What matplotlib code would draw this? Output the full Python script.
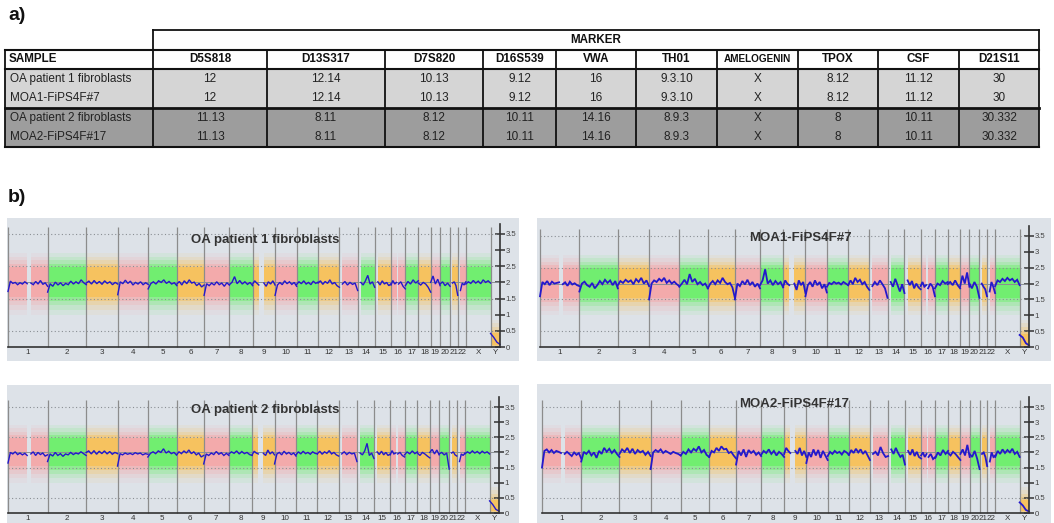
import numpy as np
import matplotlib
matplotlib.use('Agg')
import matplotlib.pyplot as plt
from matplotlib.patches import Rectangle

plt.rcParams['font.family'] = ['Liberation Sans', 'DejaVu Sans']

# ---------------- a) STR table ----------------
markers = ['D5S818', 'D13S317', 'D7S820', 'D16S539', 'VWA', 'TH01',
           'AMELOGENIN', 'TPOX', 'CSF', 'D21S11']
samples = ['OA patient 1 fibroblasts', 'MOA1-FiPS4F#7',
           'OA patient 2 fibroblasts', 'MOA2-FiPS4F#17']
calls_oa1 = ['12', '12.14', '10.13', '9.12', '16', '9.3.10', 'X', '8.12', '11.12', '30']
calls_moa1 = ['12', '12.14', '10.13', '9.12', '16', '9.3.10', 'X', '8.12', '11.12', '30']
calls_oa2 = ['11.13', '8.11', '8.12', '10.11', '14.16', '8.9.3', 'X', '8', '10.11', '30.332']
calls_moa2 = ['11.13', '8.11', '8.12', '10.11', '14.16', '8.9.3', 'X', '8', '10.11', '30.332']

# ---------------- b) copy number ----------------
chrom_names = ['1', '2', '3', '4', '5', '6', '7', '8', '9', '10', '11', '12', '13',
               '14', '15', '16', '17', '18', '19', '20', '21', '22', 'X', 'Y']
chrom_len = [249.3, 243.2, 198.0, 191.2, 180.9, 171.1, 159.1, 146.4, 141.2, 135.5,
             135.0, 133.9, 115.2, 107.3, 102.5, 90.4, 81.2, 78.1, 59.1, 63.0,
             48.1, 51.3, 155.3, 59.4]
# covered segments (chromosome index, start Mb, end Mb)
segments = [(0, 0, 121), (0, 144, 249.3), (1, 0, 243.2), (2, 0, 198), (3, 0, 191.2),
            (4, 0, 180.9), (5, 0, 171.1), (6, 0, 159.1), (7, 0, 146.4), (8, 0, 39),
            (8, 71, 141.2), (9, 0, 135.5), (10, 0, 135), (11, 0, 133.9), (12, 19, 115.2),
            (13, 20, 107.3), (14, 20, 102.5), (15, 0, 35), (15, 47, 90.4), (16, 0, 81.2),
            (17, 0, 78.1), (18, 0, 59.1), (19, 0, 63), (20, 15, 48.1), (21, 17, 51.3),
            (22, 0, 155.3), (23, 0, 59.4)]

cn_oa1 = [
    [1.72, 2.04, 1.97, 2.0, 1.93, 1.99, 1.95, 2.02, 1.96],
    [1.98, 1.93, 2.03, 1.95, 2.06, 1.94, 1.99, 1.88],
    [1.7, 1.96, 1.88, 2.01, 1.92, 1.99, 1.9, 1.97, 1.93, 2.04, 1.95, 2.02, 1.96, 2.08, 1.99, 1.93],
    [1.98, 2.04, 1.95, 2.06, 1.96, 2.03, 1.94, 2.05, 1.97, 2.02, 1.93, 2.0, 1.95],
    [1.62, 2.02, 1.96, 2.07, 1.97, 2.04, 1.92, 2.0, 1.95, 2.02, 1.93, 1.99, 1.94],
    [1.8, 1.96, 2.02, 1.95, 2.05, 2.0, 2.08, 1.97, 2.03, 1.95, 1.99, 1.9],
    [1.95, 2.03, 1.92, 2.05, 1.96, 2.08, 1.98, 2.01, 1.9, 1.97, 1.86, 1.92],
    [1.6, 1.96, 1.9, 1.98, 1.92, 2.02, 1.93, 1.98, 1.88, 1.99, 1.92],
    [1.93, 2.0, 2.18, 1.96, 2.06, 1.95, 2.02, 1.94, 2.0, 1.9],
    [1.95, 2.05, 1.98, 1.92],
    [1.98, 1.88, 2.02, 1.95, 2.05, 1.92],
    [1.6, 1.92, 2.0, 1.93, 2.05, 1.96, 2.02, 1.94, 2.0, 1.88],
    [1.94, 2.02, 1.96, 2.05, 1.95, 2.0, 1.93, 2.04, 1.97, 2.01],
    [1.98, 2.05, 1.94, 2.03, 1.97, 2.08, 1.95, 2.0, 1.9, 1.85],
    [1.95, 2.03, 1.92, 2.0, 1.94, 1.98, 1.75],
    [2.0, 1.92, 2.05, 2.22, 1.95, 2.02, 1.85],
    [2.02, 1.92, 2.05, 1.95, 2.0, 1.9, 1.96],
    [1.92, 2.06, 1.95, 2.0],
    [1.95, 2.02, 1.88, 1.8],
    [1.9, 2.03, 1.95, 2.08, 1.98, 2.05],
    [1.98, 1.92, 2.0, 1.95, 1.85, 1.7],
    [2.0, 2.2, 1.95, 2.1, 1.9],
    [1.95, 2.02, 1.9, 1.98, 1.88],
    [1.98, 2.02, 1.9, 1.6],
    [1.75, 1.98, 1.92, 2.02],
    [1.95, 2.02, 1.97, 2.06, 1.98, 2.04, 1.96, 2.08, 2.0, 2.05, 1.98],
    [0.42, 0.3, 0.15, 0.08],
]

cn_moa1 = [
    [1.6, 2.05, 1.98, 2.08, 1.95, 2.06, 2.0, 2.02, 2.04],
    [1.98, 2.04, 1.93, 2.06, 1.97, 2.01, 1.95, 1.92],
    [1.75, 2.0, 2.06, 1.95, 1.9, 2.02, 1.85, 1.95, 2.08, 1.98, 2.12, 2.02, 2.1, 1.95, 2.08, 1.85],
    [1.95, 2.08, 2.02, 2.12, 2.05, 2.1, 1.98, 2.14, 2.05, 2.18, 2.0, 2.1, 1.92],
    [1.5, 2.0, 2.1, 2.05, 2.15, 2.08, 2.18, 2.02, 2.1, 2.0, 2.06, 1.98, 1.92],
    [1.9, 2.0, 2.12, 1.98, 2.3, 2.05, 2.15, 1.98, 2.05, 1.95, 2.0, 1.85],
    [1.85, 2.0, 2.08, 1.98, 2.1, 2.02, 2.18, 2.05, 1.98, 2.02, 1.88, 1.55],
    [1.5, 2.0, 1.92, 2.08, 1.97, 2.12, 1.95, 2.05, 1.9, 2.0, 1.85],
    [1.95, 2.1, 2.45, 2.0, 2.1, 1.95, 2.08, 1.98, 2.05, 1.88],
    [1.9, 2.1, 2.0, 1.95],
    [2.0, 1.8, 2.1, 1.95, 2.05, 1.7],
    [1.6, 1.95, 2.05, 1.9, 2.1, 1.95, 2.05, 1.85, 1.98, 1.72],
    [1.9, 2.02, 1.98, 2.05, 2.0, 2.03, 1.97, 2.05, 2.0, 1.95],
    [1.95, 2.1, 1.98, 2.18, 2.05, 2.12, 1.98, 2.05, 1.9, 1.8],
    [1.92, 2.05, 1.95, 2.1, 1.98, 1.85, 1.55],
    [2.05, 1.9, 2.15, 1.95, 1.75, 1.98, 1.7],
    [2.1, 1.95, 2.08, 1.85, 2.0, 1.88, 1.82],
    [1.92, 2.05, 1.9, 1.95],
    [1.85, 2.0, 1.9, 1.6],
    [1.85, 2.0, 1.95, 2.08, 2.0, 2.05],
    [1.98, 2.05, 1.95, 2.1, 1.95, 1.85],
    [1.9, 2.25, 2.0, 2.35, 1.9],
    [2.0, 1.85, 2.05, 1.9, 1.55],
    [2.0, 1.9, 1.82, 1.6],
    [1.75, 2.05, 1.9, 1.7],
    [1.92, 2.1, 2.05, 2.15, 2.08, 2.18, 2.1, 2.15, 2.05, 2.12, 1.95],
    [0.38, 0.3, 0.12, 0.05],
]

cn_oa2 = [
    [1.65, 2.0, 1.95, 2.02, 1.93, 1.98, 1.92, 1.97, 1.9],
    [1.95, 2.02, 1.9, 2.0, 1.93, 1.98, 1.88, 1.92],
    [1.7, 1.95, 1.88, 2.0, 1.9, 1.96, 1.87, 1.95, 1.92, 2.0, 1.93, 1.98, 1.95, 2.02, 1.96, 1.9],
    [2.0, 2.05, 1.95, 2.06, 1.94, 2.04, 1.96, 2.05, 1.95, 2.03, 1.94, 2.0, 1.96],
    [1.55, 1.96, 1.92, 1.98, 1.94, 1.97, 1.93, 1.99, 1.95, 1.98, 1.92, 1.96, 1.94],
    [1.85, 1.97, 2.02, 1.96, 2.05, 2.0, 2.12, 1.98, 2.04, 1.96, 2.0, 1.92],
    [1.92, 2.02, 1.96, 2.05, 1.98, 2.08, 1.96, 2.02, 1.92, 1.98, 1.85, 1.9],
    [1.62, 1.95, 1.9, 1.98, 1.93, 2.03, 1.94, 1.99, 1.9, 1.97, 1.9],
    [1.95, 2.02, 1.97, 2.05, 1.95, 2.03, 1.96, 2.0, 1.93, 1.9],
    [1.92, 2.04, 1.98, 1.95],
    [1.97, 1.9, 2.08, 1.95, 2.02, 1.92],
    [1.62, 1.95, 2.0, 1.92, 2.04, 1.95, 2.0, 1.93, 1.98, 1.88],
    [1.92, 2.02, 1.95, 2.04, 1.96, 2.0, 1.94, 2.02, 1.97, 1.95],
    [1.96, 2.04, 1.94, 2.02, 1.97, 2.06, 1.95, 2.0, 1.92, 1.88],
    [1.95, 2.02, 1.93, 2.0, 1.95, 1.98, 1.7],
    [1.98, 1.92, 2.05, 2.3, 1.9, 1.98, 1.8],
    [2.02, 1.93, 2.04, 1.92, 2.0, 1.9, 1.95],
    [1.92, 2.06, 1.95, 1.98],
    [1.95, 2.0, 1.9, 1.85],
    [1.92, 2.02, 1.95, 2.05, 1.96, 2.02],
    [1.98, 1.9, 2.0, 1.95, 1.88, 1.82],
    [2.0, 2.1, 1.95, 2.08, 1.92],
    [1.95, 2.0, 1.92, 1.98, 1.45],
    [1.98, 2.02, 1.92, 1.88],
    [1.7, 1.95, 1.9, 1.98],
    [1.95, 2.02, 1.97, 2.05, 1.98, 2.03, 1.96, 2.04, 1.98, 2.02, 1.95],
    [0.4, 0.28, 0.12, 0.06],
]

cn_moa2 = [
    [1.5, 2.05, 2.1, 2.0, 2.08, 1.98, 2.05, 2.02, 1.98],
    [1.95, 2.02, 1.95, 1.88, 2.0, 1.92, 1.98, 1.8],
    [1.7, 2.02, 1.95, 2.05, 1.9, 2.0, 1.82, 2.05, 1.95, 2.15, 2.02, 2.12, 1.98, 2.08, 1.95, 1.85],
    [1.95, 2.1, 2.02, 2.15, 1.98, 2.12, 1.95, 2.08, 2.0, 2.05, 1.92, 2.02, 1.88],
    [1.45, 2.0, 2.08, 2.02, 2.1, 1.98, 2.05, 2.0, 1.95, 2.02, 1.98, 1.95, 1.9],
    [1.9, 2.02, 1.95, 2.1, 2.0, 2.12, 2.05, 2.2, 2.0, 2.08, 1.92, 1.85],
    [1.85, 2.05, 2.0, 2.15, 2.05, 2.2, 2.1, 2.12, 1.98, 2.02, 1.9, 1.8],
    [1.6, 2.05, 1.9, 2.1, 1.85, 2.08, 1.98, 2.05, 1.92, 2.0, 1.88],
    [1.92, 2.05, 1.98, 2.1, 1.95, 2.05, 1.9, 2.02, 1.95, 1.85],
    [1.95, 2.15, 2.05, 1.98],
    [2.05, 1.95, 2.15, 1.9, 2.05, 1.85],
    [1.65, 2.0, 1.85, 2.1, 1.9, 2.08, 1.82, 2.05, 1.9, 1.75],
    [1.88, 2.02, 1.95, 2.05, 1.98, 2.02, 1.93, 2.05, 2.0, 1.92],
    [1.92, 2.08, 1.98, 2.12, 2.0, 2.1, 1.95, 2.05, 1.9, 1.75],
    [1.95, 2.02, 1.9, 2.18, 1.98, 1.85, 1.88],
    [2.1, 1.95, 2.15, 1.98, 1.85, 1.92, 1.6],
    [2.05, 1.92, 2.1, 1.88, 2.02, 1.85, 1.8],
    [1.9, 2.0, 1.85, 1.95],
    [1.85, 1.95, 1.78, 1.85],
    [1.82, 2.0, 1.9, 2.08, 1.95, 2.05],
    [1.98, 1.9, 2.02, 1.95, 1.85, 1.75],
    [1.95, 2.1, 1.9, 2.25, 1.85],
    [1.95, 1.85, 2.05, 1.8, 1.45],
    [1.95, 2.0, 1.85, 1.55],
    [1.7, 2.0, 1.85, 1.9],
    [1.85, 2.05, 1.95, 2.1, 1.98, 2.08, 2.0, 2.12, 1.95, 2.02, 1.85],
    [0.35, 0.25, 0.1, 0.05],
]

# SNP cloud spread (copy number ranges, outer to core)
cloud_bands = [(1.0, 2.9), (1.15, 2.8), (1.3, 2.68), (1.42, 2.58), (1.55, 2.48)]
cloud_alpha = [0.08, 0.12, 0.2, 0.35, 0.6]
y_cloud_bands = [(0.0, 0.85), (0.0, 0.75), (0.0, 0.62), (0.02, 0.52), (0.06, 0.42)]

W, H = 1054, 523
fig = plt.figure(figsize=(W / 100, H / 100), dpi=100)
fig.patch.set_facecolor('white')

# ---- table overlay in pixel coordinates
tab = fig.add_axes([0, 0, 1, 1])
tab.set_xlim(0, W)
tab.set_ylim(H, 0)
tab.axis('off')

col_edges = [5, 153, 267, 385, 483, 556, 636, 717, 798, 878, 959, 1039]
row_edges = [30, 50, 69, 88.5, 108, 127.5, 147]
row_fill = ['#d5d5d5', '#d5d5d5', '#9d9d9d', '#9d9d9d']

for i in range(4):
    tab.add_patch(Rectangle((col_edges[0], row_edges[i + 2]), col_edges[-1] - col_edges[0],
                            row_edges[i + 3] - row_edges[i + 2], facecolor=row_fill[i],
                            edgecolor='none', zorder=1))

lk = dict(color='#111111', zorder=3, solid_capstyle='projecting')
# marker header box
tab.plot([col_edges[1], col_edges[-1]], [row_edges[0]] * 2, lw=1.3, **lk)
tab.plot([col_edges[1]] * 2, [row_edges[0], row_edges[1]], lw=1.3, **lk)
tab.plot([col_edges[-1]] * 2, [row_edges[0], row_edges[-1]], lw=1.3, **lk)
for y, lw in zip([row_edges[1], row_edges[2], row_edges[4], row_edges[6]], [1.5, 1.5, 2.0, 1.5]):
    tab.plot([col_edges[0], col_edges[-1]], [y, y], lw=lw, **lk)
for x in col_edges[:-1]:
    tab.plot([x, x], [row_edges[1], row_edges[-1]], lw=1.3, **lk)

tab.text((col_edges[1] + col_edges[-1]) / 2, 40, 'MARKER', ha='center', va='center',
         fontsize=8.4, fontweight='bold', color='#111')
tab.text(col_edges[0] + 4, 59.5, 'SAMPLE', ha='left', va='center',
         fontsize=8.4, fontweight='bold', color='#111')
for j, m in enumerate(markers):
    fs = 7.2 if len(m) > 8 else 8.4
    tab.text((col_edges[j + 1] + col_edges[j + 2]) / 2, 59.5, m, ha='center', va='center',
             fontsize=fs, fontweight='bold', color='#111')

for i, (s, row) in enumerate(zip(samples, [calls_oa1, calls_moa1, calls_oa2, calls_moa2])):
    yc = (row_edges[i + 2] + row_edges[i + 3]) / 2
    tab.text(col_edges[0] + 5, yc, s, ha='left', va='center', fontsize=8.5, color='#222')
    for j, v in enumerate(row):
        tab.text((col_edges[j + 1] + col_edges[j + 2]) / 2, yc, v, ha='center', va='center',
                 fontsize=8.5, color='#222')

tab.text(8, 15, 'a)', ha='left', va='center', fontsize=14, fontweight='bold', color='#111')
tab.text(8, 197, 'b)', ha='left', va='center', fontsize=14, fontweight='bold', color='#111')

# ---- copy number panels
offsets = np.concatenate([[0], np.cumsum(chrom_len)])
genome_end = offsets[-1]
cloud_colors = ['#f8a0a0', '#5cf259', '#fdbc45']
blue = '#2418cc'


def draw_panel(bg, x0, x1, base, top35, title, title_pos, cn, lw):
    left, right, tp, bt = bg
    ax = fig.add_axes([left / W, 1 - bt / H, (right - left) / W, (bt - tp) / H])
    s = (x1 - x0) / genome_end
    u = (base - top35) / 3.5
    ax.set_xlim((left - x0) / s, (right - x0) / s)
    ax.set_ylim((base - bt) / u, (base - tp) / u)
    ax.set_facecolor('#dde2e8')

    for (c, a, b), vals in zip(segments, cn):
        xa, xb = offsets[c] + a, offsets[c] + b
        bands = y_cloud_bands if chrom_names[c] == 'Y' else cloud_bands
        for (lo, hi), al in zip(bands, cloud_alpha):
            ax.fill_between([xa, xb], lo, hi, color=cloud_colors[c % 3], alpha=al,
                            lw=0, zorder=1)
    ax.hlines([0.5, 1.5, 2.5, 3.5], 0, genome_end, colors='#8a8f94',
              linestyles=(0, (1, 2.2)), lw=0.8, zorder=2)
    ax.hlines(2, 0, genome_end, colors='#8a8f94', lw=0.7, zorder=2)
    ax.vlines(offsets[:-1], 0, 3.72, colors='#8c8c8c', lw=0.9, zorder=2)
    for (c, a, b), vals in zip(segments, cn):
        xs = np.linspace(offsets[c] + a, offsets[c] + b, len(vals))
        ax.plot(xs, vals, color=blue, lw=lw, zorder=3, solid_joinstyle='miter')

    for sp in ['top', 'left']:
        ax.spines[sp].set_visible(False)
    ax.spines['right'].set_position(('data', genome_end))
    ax.spines['right'].set_bounds(0, 3.82)
    ax.spines['bottom'].set_position(('data', 0))
    ax.spines['bottom'].set_bounds(0, genome_end)
    for sp in ['right', 'bottom']:
        ax.spines[sp].set_color('#333333')
        ax.spines[sp].set_linewidth(1.2)
        ax.spines[sp].set_zorder(4)
    ax.set_xticks([])
    ax.yaxis.tick_right()
    ax.set_yticks(np.arange(0, 3.6, 0.5))
    ax.set_yticklabels(['0', '0.5', '1', '1.5', '2', '2.5', '3', '3.5'])
    ax.tick_params(axis='y', direction='inout', length=7, width=1.1, color='#333',
                   labelsize=5.6, labelcolor='#444', pad=0.5)

    for c, name in enumerate(chrom_names):
        ax.text(offsets[c] + chrom_len[c] / 2, -6 / u, name, ha='center', va='center',
                fontsize=5.8, color='#333')
    ax.text(title_pos[0], title_pos[1], title, transform=ax.transAxes, ha='center',
            va='center', fontsize=9.5, fontweight='bold', color='#333')


draw_panel((7, 519, 218, 361), 8, 500, 347, 234, 'OA patient 1 fibroblasts',
           (0.504, 0.846), cn_oa1, 1.0)
draw_panel((537, 1051, 218, 361), 540, 1029, 347, 236, 'MOA1-FiPS4F#7',
           (0.512, 0.86), cn_moa1, 1.3)
draw_panel((7, 519, 385, 523), 8, 499, 513, 407, 'OA patient 2 fibroblasts',
           (0.504, 0.819), cn_oa2, 1.0)
draw_panel((537, 1051, 384, 523), 542, 1029, 513, 407, 'MOA2-FiPS4F#17',
           (0.5, 0.856), cn_moa2, 1.3)

fig.savefig('out.png', dpi=100, facecolor='white')
